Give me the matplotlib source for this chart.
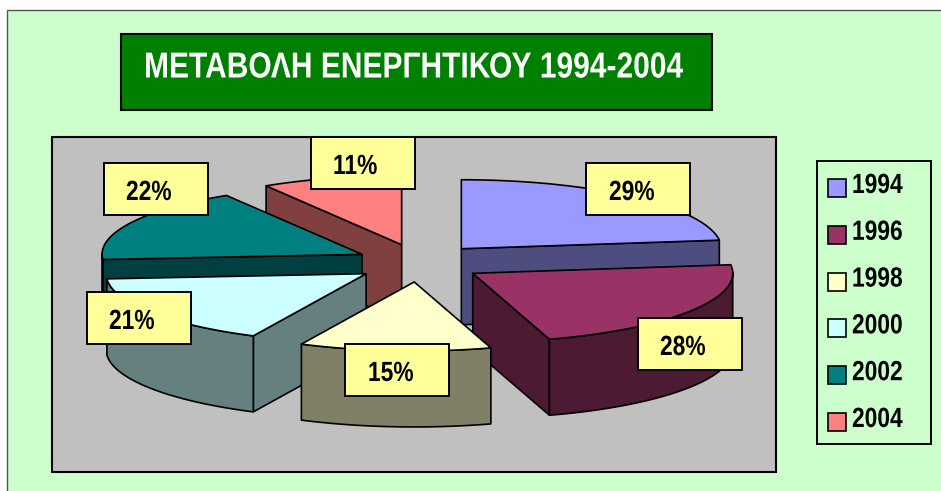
import numpy as np
import matplotlib
matplotlib.use("Agg")
import matplotlib.pyplot as plt
from matplotlib.patches import Polygon, Rectangle
from matplotlib.patheffects import AbstractPathEffect
from matplotlib.transforms import Affine2D
from matplotlib.colors import to_rgb

plt.rcParams["font.family"] = ["Liberation Sans", "DejaVu Sans"]

titulo = "ΜΕΤΑΒΟΛΗ ΕΝΕΡΓΗΤΙΚΟΥ 1994-2004"
anos = ["1994", "1996", "1998", "2000", "2002", "2004"]
valores = [29, 28, 15, 21, 22, 11]
cores = ["#9999FF", "#993366", "#FFFFCC", "#CCFFFF", "#008080", "#FF8080"]

# pie geometry, in pixels of the picture
CX, CY = 419, 263
RX, RY = 260, 69
EX, EY = 64, 19
PROF = 76
LW = 1.2

# drawing order, back to front
ordem = [5, 0, 4, 3, 1, 2]

# label boxes: left, top, text x, text y
caixas = [
    (586, 163, 609, 193),
    (638, 318, 660, 348),
    (345, 344, 368, 374),
    (87, 292, 109, 322),
    (104, 163, 126, 193),
    (311, 137, 333, 167),
]


class Estreita(AbstractPathEffect):
    # the reference text is a narrow bold, squeeze the glyphs sideways
    def __init__(self, sx):
        super().__init__()
        self.sx = sx

    def draw_path(self, renderer, gc, tpath, affine, rgbFace=None):
        m = affine.get_matrix().copy()
        m[0, :2] *= self.sx
        renderer.draw_path(gc, tpath, Affine2D(m), rgbFace)


estreita = [Estreita(0.82)]

fig = plt.figure(figsize=(9.41, 4.91), dpi=100)
ax = fig.add_axes([0, 0, 1, 1])
ax.set_xlim(0, 941)
ax.set_ylim(491, 0)
ax.axis("off")


def ret(x0, y0, x1, y1, fc, ec="black", lw=LW, z=1):
    ax.add_patch(Rectangle((x0, y0), x1 - x0, y1 - y0, fc=fc, ec=ec, lw=lw, zorder=z))


ret(7, 9.5, 960, 510, "#CCFFCC", ec="#555555", lw=1.0)
ret(121, 34, 712, 110, "#008000", lw=1.5, z=2)
ax.text(144, 68, titulo, color="white", fontsize=26, fontweight="bold",
        ha="left", va="center", zorder=3, path_effects=[Estreita(0.83)])
ret(52, 137, 776, 472.5, "#C0C0C0", lw=1.5, z=2)

# slices
total = sum(valores)
fim = np.cumsum(valores) / total * 2 * np.pi
ini = np.concatenate([[0], fim[:-1]])

for i in ordem:
    a0, a1 = ini[i], fim[i]
    meio = (a0 + a1) / 2
    ax0 = CX + EX * np.sin(meio)
    ay0 = CY - EY * np.cos(meio)
    t = np.linspace(a0, a1, 80)
    xs = ax0 + RX * np.sin(t)
    ys = ay0 - RY * np.cos(t)
    cor = cores[i]
    escura = tuple(c / 2 for c in to_rgb(cor))

    # radial walls, only when the slice lies above the edge on screen
    for a in (a0, a1):
        dx, dy = np.sin(a), -np.cos(a)
        if dx < 0:
            dx, dy = -dx, -dy
        if dx * -np.cos(meio) - dy * np.sin(meio) < 0:
            xr = ax0 + RX * np.sin(a)
            yr = ay0 - RY * np.cos(a)
            pts = [(ax0, ay0), (xr, yr), (xr, yr + PROF), (ax0, ay0 + PROF)]
            ax.add_patch(Polygon(pts, fc=escura, ec="black", lw=LW, joinstyle="round", zorder=4))

    # outer wall, front part only
    frente = np.cos(t) < 0.02
    if frente.any():
        xf, yf = xs[frente], ys[frente]
        pts = list(zip(xf, yf)) + list(zip(xf[::-1], yf[::-1] + PROF))
        ax.add_patch(Polygon(pts, fc=escura, ec="black", lw=LW, joinstyle="round", zorder=4))

    # top
    pts = [(ax0, ay0)] + list(zip(xs, ys))
    ax.add_patch(Polygon(pts, fc=cor, ec="black", lw=LW, joinstyle="round", zorder=4))

# percent labels
for v, (x, y, tx, ty) in zip(valores, caixas):
    ret(x, y, x + 104, y + 52, "#FFFF99", lw=1.4, z=5)
    ax.text(tx, ty, f"{v}%", fontsize=20, fontweight="bold", ha="left", va="center",
            zorder=6, path_effects=estreita)

# legend
ret(817, 161, 931, 444, "#CCFFCC", lw=1.4, z=2)
for k, (ano, cor) in enumerate(zip(anos, cores)):
    yl = 188 + k * 46.8
    ret(828, yl - 9, 846, yl + 9, cor, lw=1.2, z=3)
    ax.text(852, yl - 2, ano, fontsize=20, fontweight="bold", ha="left", va="center",
            zorder=3, path_effects=estreita)

fig.savefig("out.png", dpi=100, facecolor="white")
